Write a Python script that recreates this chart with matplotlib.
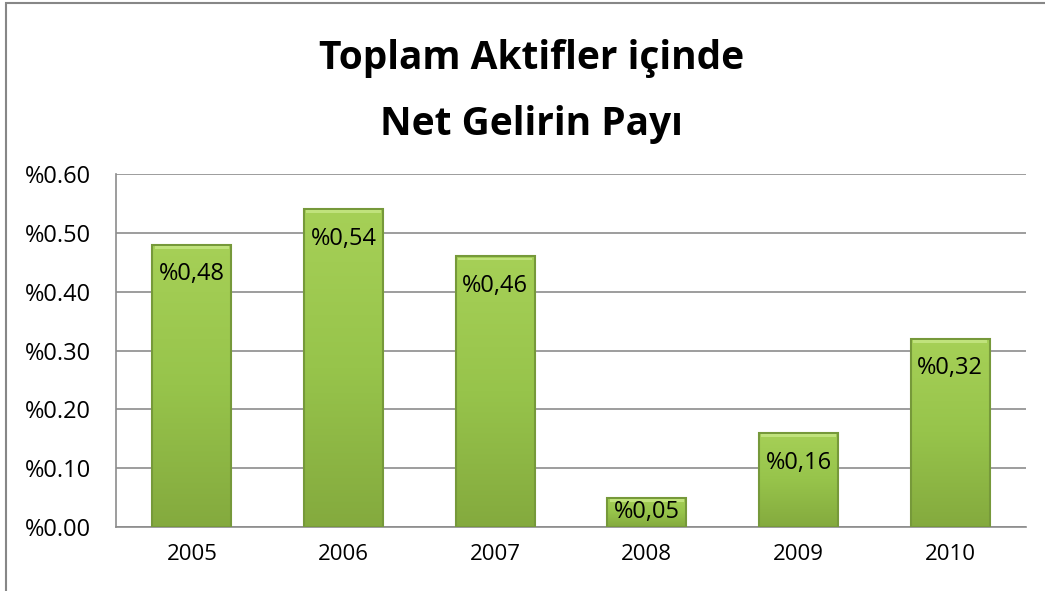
import numpy as np
import matplotlib.pyplot as plt
from matplotlib.patches import Rectangle
from matplotlib.colors import LinearSegmentedColormap

years = ['2005', '2006', '2007', '2008', '2009', '2010']
values = [0.48, 0.54, 0.46, 0.05, 0.16, 0.32]
labels = ['%0,48', '%0,54', '%0,46', '%0,05', '%0,16', '%0,32']
yticks = [0.0, 0.1, 0.2, 0.3, 0.4, 0.5, 0.6]

plt.rcParams['font.family'] = ['Open Sans', 'DejaVu Sans']

fig = plt.figure(figsize=(10.45, 5.91), dpi=100)
# outer chart border
fig.patches.append(Rectangle((6/1045, -0.05), 1.1, 1 - 3/591 + 0.05, transform=fig.transFigure,
                             fill=False, edgecolor='#878787', linewidth=1.5))

ax = fig.add_axes([116/1045, 1 - 527/591, 910/1045, 353/591])
x = np.arange(len(years))
w = 0.52

grad = np.linspace(0, 1, 256).reshape(-1, 1)
cmap = LinearSegmentedColormap.from_list('g', ['#84aa3e', '#97c44b', '#a6d057'])

bars = ax.bar(x, values, width=w, color='#97c44b', edgecolor='none', zorder=2)
for b in bars:
    bx, by = b.get_x(), b.get_y()
    bw, bh = b.get_width(), b.get_height()
    im = ax.imshow(grad, extent=[bx, bx + bw, by, by + bh], origin='lower',
                   cmap=cmap, aspect='auto', zorder=3)
    im.set_clip_path(b)
    # bevel edges
    ax.add_patch(Rectangle((bx, by), bw, bh, fill=False, edgecolor='#76993a',
                           linewidth=1.5, zorder=4))
    ax.add_patch(Rectangle((bx + 0.015, by + bh - 0.007), bw - 0.03, 0.005,
                           facecolor='#c0e27c', edgecolor='none', zorder=4))

for xi, v, lab in zip(x, values, labels):
    if v > 0.1:
        ax.text(xi, v - 0.03, lab, ha='center', va='top', fontsize=17, color='black', zorder=5)
    else:
        ax.text(xi, v / 2, lab, ha='center', va='center', fontsize=17, color='black', zorder=5)

ax.set_xlim(-0.5, len(years) - 0.5)
ax.set_ylim(0, 0.6)
ax.set_yticks(yticks)
ax.set_yticklabels(['%{:.2f}'.format(t) for t in yticks], fontsize=17)
ax.set_xticks(x)
ax.set_xticklabels(years, fontsize=16)
ax.yaxis.grid(True, color='#8c8c8c', linewidth=1.2, zorder=0)
ax.set_axisbelow(True)
for s in ['top', 'right']:
    ax.spines[s].set_visible(False)
ax.spines['left'].set_color('#8c8c8c')
ax.spines['bottom'].set_color('#8c8c8c')
ax.spines['left'].set_linewidth(1.2)
ax.spines['bottom'].set_linewidth(1.2)
ax.tick_params(axis='x', length=0, pad=12)
ax.tick_params(axis='y', length=0, pad=18)

fig.text(0.509, 1 - 59/591, 'Toplam Aktifler içinde', ha='center', va='center',
         fontsize=28, fontweight='bold')
fig.text(0.509, 1 - 124/591, 'Net Gelirin Payı', ha='center', va='center',
         fontsize=28, fontweight='bold')

fig.savefig('out.png', dpi=100)
